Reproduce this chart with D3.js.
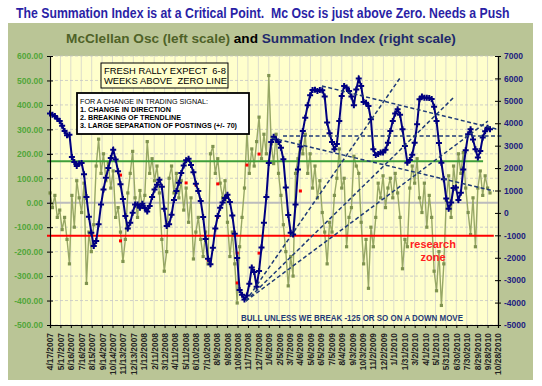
<!DOCTYPE html>
<html>
<head>
<meta charset="utf-8">
<script src="https://cdn.jsdelivr.net/npm/d3@7"></script>
<style>
body { margin: 0; background: #fff; }
svg { display: block; font-family: "Liberation Sans", Arial, sans-serif; }
</style>
</head>
<body>
<script>
// x axis labels, one every 30 days
var tickLabels = ["4/17/2007","5/17/2007","6/16/2007","7/16/2007","8/15/2007","9/14/2007","10/14/2007","11/13/2007","12/13/2007",
  "1/12/2008","2/11/2008","3/12/2008","4/11/2008","5/11/2008","6/10/2008","7/10/2008","8/9/2008","9/8/2008","10/8/2008","11/7/2008","12/7/2008",
  "1/6/2009","2/5/2009","3/7/2009","4/6/2009","5/6/2009","6/5/2009","7/5/2009","8/4/2009","9/3/2009","10/3/2009","11/2/2009","12/2/2009",
  "1/1/2010","1/31/2010","3/2/2010","4/1/2010","5/1/2010","5/31/2010","6/30/2010","7/30/2010","8/29/2010","9/28/2010","10/28/2010"];

// weekly readings starting 4/17/2007
var firstDay = "4/17/2007";
var sumIndex = [4440,4380,4320,4200,4100,3890,3650,3460,3490,2490,
  2270,2090,2200,2230,1720,710,-170,-880,-1480,-1250,
  -510,370,1050,1570,2000,2450,2820,2380,1860,1280,
  620,-140,-700,-440,10,380,380,230,410,220,
  60,310,710,1040,1260,1480,1170,190,-580,-510,
  -80,580,980,1350,1780,2110,2350,2420,2140,1810,
  1300,980,530,-180,-1160,-2040,-2290,-1550,-690,-140,
  230,460,670,810,490,-110,-930,-2010,-3440,-3650,
  -3860,-3680,-3160,-2440,-2640,-3290,-2590,-1540,-440,710,
  2230,3160,3400,3280,3160,2910,2390,1130,-90,-880,
  -960,380,1940,2960,3650,4250,4800,5250,5480,5500,
  5440,5480,5470,5190,4030,3550,3160,2840,3070,4100,
  5220,5660,5600,5440,5190,4800,5510,6000,5660,4950,
  4920,4770,4180,2840,2580,2630,2690,2690,2820,3130,
  3650,4100,4440,4620,4380,3730,2990,2240,2360,2600,
  3130,3950,5070,5190,5140,5140,5130,5080,4740,4100,
  3120,2240,1500,640,190,460,1110,1130,580,900,
  1940,2790,3510,3730,3280,2840,2470,2760,3360,3640,
  3800,3730];
var mcOsc = [40,-20,30,-60,-30,-110,-60,-150,-250,30,
  -100,90,20,-40,80,-330,-120,-200,-90,150,
  260,120,200,90,160,60,130,-60,-20,-120,
  -240,-150,40,120,210,20,-60,50,-20,30,
  250,120,180,90,150,40,-150,-280,-200,100,
  150,40,120,20,90,-30,60,-80,20,-230,
  -120,-60,-150,-220,-120,-250,200,230,120,180,
  80,20,90,-80,-220,-120,-250,-410,-180,-60,
  60,290,120,220,150,250,350,180,280,200,
  520,240,160,280,120,30,-90,-200,-340,-220,
  -300,120,180,250,200,280,120,200,60,150,
  20,90,-40,-120,-250,-80,-120,30,100,220,
  60,100,-180,-60,-20,190,150,120,-80,-250,
  -150,-350,-100,-180,-60,80,20,110,-20,60,
  100,20,120,40,-60,-270,-150,-180,60,150,
  80,180,20,-40,80,-100,30,-60,-280,-360,
  -200,-420,-250,10,110,-60,150,60,200,120,
  205,60,-40,-130,20,-180,60,130,30,110,
  60,40];

// red postings on the oscillator (week number, value)
var signalWeek = [29,56,29,60,69,69,65,77,77,86,81,86,103];
var signalValue = [113,81,-156,73,77,-58,-234,-206,-328,-206,154,199,48];

// level lines on the left scale
var greenLevel = 170, redLevel = -135;
// trend lines on the right scale: from date, value, to date, value
var trendLines = [
  ["2/16/2009", 3430, "11/11/2010", 3430],
  ["6/8/2009", 5660, "10/25/2010", 3740],
  ["1/15/2009", 3340, "10/16/2010", 980],
  ["11/1/2008", -3930, "1/19/2010", 6020],
  ["11/1/2008", -3930, "6/21/2010", 5130],
  ["11/1/2008", -3930, "9/29/2010", 4100]
];

var leftTicks = d3.range(-500, 601, 100);
var rightTicks = d3.range(-5000, 7001, 1000);

var parse = d3.timeParse("%m/%d/%Y");
var tickDates = tickLabels.map(parse);
var start = parse(firstDay);
var week = function(i) { return d3.timeDay.offset(start, 7 * i); };

var svg = d3.select("body").append("svg")
  .attr("width", 542)
  .attr("height", 386);

svg.append("rect")
  .attr("x", 8).attr("y", 23).attr("width", 525).attr("height", 357)
  .attr("fill", "#bac596");

// page title, squeezed to the width it has in the original
var head = svg.append("g");
var headText = head.append("text")
  .attr("x", 0).attr("y", 0)
  .attr("font-family", "'Liberation Sans Narrow', 'Liberation Sans', sans-serif")
  .attr("font-size", "14px").attr("font-weight", "bold")
  .attr("fill", "#2a1fa6")
  .style("white-space", "pre")
  .text("The Summation Index is at a Critical Point.  Mc Osc is just above Zero. Needs a Push");
var headLen = headText.node().getComputedTextLength();
head.attr("transform", "translate(16,18) scale(" + Math.min(1, 494 / headLen) + ",1)");

var title = svg.append("text")
  .attr("x", 261).attr("y", 43)
  .attr("text-anchor", "middle")
  .attr("font-size", "13.6px").attr("font-weight", "bold");
title.append("tspan").attr("fill", "#4f6228").text("McClellan Osc (left scale) ");
title.append("tspan").attr("fill", "#000").text("and ");
title.append("tspan").attr("fill", "#1f2a6b").text("Summation Index (right scale)");

var x = d3.scaleTime().domain([tickDates[0], tickDates[tickDates.length - 1]]).range([50, 498]);
var yL = d3.scaleLinear().domain([-500, 600]).range([325, 56]);
var yR = d3.scaleLinear().domain([-5000, 7000]).range([325, 56]);

svg.append("rect")
  .attr("x", 50).attr("y", 56).attr("width", 448).attr("height", 269)
  .attr("fill", "#ffffcc");

// grid
svg.append("g").selectAll("line")
  .data(tickDates)
  .enter().append("line")
  .attr("x1", function(d) { return x(d); })
  .attr("x2", function(d) { return x(d); })
  .attr("y1", 56).attr("y2", 325)
  .attr("stroke", "#dcdccb").attr("stroke-width", 1);

svg.append("g").selectAll("line")
  .data(leftTicks)
  .enter().append("line")
  .attr("x1", 50).attr("x2", 498)
  .attr("y1", function(d) { return yL(d); })
  .attr("y2", function(d) { return yL(d); })
  .attr("stroke", "#c4c4c4").attr("stroke-width", 0.8)
  .attr("stroke-dasharray", "3,2");

// zero line
svg.append("line")
  .attr("x1", 47).attr("x2", x(parse("10/28/2010")))
  .attr("y1", yL(0)).attr("y2", yL(0))
  .attr("stroke", "#bdbdbd").attr("stroke-width", 2);

// oscillator
var osc = mcOsc.map(function(v, i) { return {d: week(i), v: v}; });
svg.append("path")
  .datum(osc)
  .attr("fill", "none")
  .attr("stroke", "#98a866")
  .attr("stroke-width", 1.4)
  .attr("d", d3.line().x(function(d) { return x(d.d); }).y(function(d) { return yL(d.v); }));

svg.append("g").selectAll("rect")
  .data(osc)
  .enter().append("rect")
  .attr("x", function(d) { return x(d.d) - 1.6; })
  .attr("y", function(d) { return yL(d.v) - 1.6; })
  .attr("width", 3.2).attr("height", 3.2)
  .attr("fill", "#7f9350");

svg.append("g").selectAll("rect")
  .data(signalWeek)
  .enter().append("rect")
  .attr("x", function(d) { return x(week(d)) - 1.5; })
  .attr("y", function(d, i) { return yL(signalValue[i]) - 1.5; })
  .attr("width", 3).attr("height", 3)
  .attr("fill", "#ff0000");

svg.append("line")
  .attr("x1", 47).attr("x2", x(parse("9/15/2010")))
  .attr("y1", yL(greenLevel)).attr("y2", yL(greenLevel))
  .attr("stroke", "#3f9f3a").attr("stroke-width", 2);

svg.append("line")
  .attr("x1", 47).attr("x2", x(parse("10/16/2010")))
  .attr("y1", yL(redLevel)).attr("y2", yL(redLevel))
  .attr("stroke", "#ff0000").attr("stroke-width", 2);

// summation index
var sum = sumIndex.map(function(v, i) { return {d: week(i), v: v}; });
svg.append("path")
  .datum(sum)
  .attr("fill", "none")
  .attr("stroke", "#000080")
  .attr("stroke-width", 2)
  .attr("d", d3.line().x(function(d) { return x(d.d); }).y(function(d) { return yR(d.v); }));

svg.append("g").selectAll("path")
  .data(sum)
  .enter().append("path")
  .attr("transform", function(d) { return "translate(" + x(d.d) + "," + yR(d.v) + ")"; })
  .attr("d", d3.symbol().type(d3.symbolCross).size(20))
  .attr("fill", "#000080");

// trend lines
svg.append("g").selectAll("line")
  .data(trendLines)
  .enter().append("line")
  .attr("x1", function(d) { return x(parse(d[0])); })
  .attr("y1", function(d) { return yR(d[1]); })
  .attr("x2", function(d) { return x(parse(d[2])); })
  .attr("y2", function(d) { return yR(d[3]); })
  .attr("stroke", "#1f3a78").attr("stroke-width", 1.5)
  .attr("stroke-dasharray", "4,2.5");

// note boxes
svg.append("rect")
  .attr("x", 101).attr("y", 63).attr("width", 127).attr("height", 25)
  .attr("fill", "#ffffcc").attr("stroke", "#000").attr("stroke-width", 1);
svg.append("text")
  .attr("x", 104).attr("y", 73.5)
  .attr("font-size", "9.4px")
  .style("white-space", "pre")
  .text("FRESH RALLY EXPECT  6-8");
svg.append("text")
  .attr("x", 104).attr("y", 84)
  .attr("font-size", "9.4px")
  .style("white-space", "pre")
  .text("WEEKS ABOVE  ZERO LINE");

svg.append("rect")
  .attr("x", 77).attr("y", 93).attr("width", 172).attr("height", 41)
  .attr("fill", "#fff").attr("stroke", "#000").attr("stroke-width", 1.8);
var notes = ["FOR A CHANGE IN TRADING SIGNAL:", "1. CHANGE IN DIRECTION", "2. BREAKING OF TRENDLINE", "3. LARGE SEPARATION OF POSTINGS (+/- 70)"];
var noteWidth = [128, 91, 101, 157];
svg.append("g").selectAll("text")
  .data(notes)
  .enter().append("text")
  .attr("x", 80)
  .attr("y", function(d, i) { return 103.5 + i * 8.3; })
  .attr("font-size", "7.9px")
  .attr("font-weight", function(d, i) { return i == 0 ? "normal" : "bold"; })
  .attr("fill", "#000")
  .attr("textLength", function(d, i) { return noteWidth[i]; })
  .attr("lengthAdjust", "spacingAndGlyphs")
  .text(function(d) { return d; });

svg.append("text")
  .attr("x", 241).attr("y", 321)
  .attr("font-size", "8.6px").attr("font-weight", "bold")
  .attr("fill", "#1f3a78")
  .attr("textLength", 222).attr("lengthAdjust", "spacingAndGlyphs")
  .text("BULL UNLESS WE BREAK -125 OR SO ON A DOWN MOVE");

svg.append("text")
  .attr("x", 433).attr("y", 248)
  .attr("text-anchor", "middle")
  .attr("font-size", "11px").attr("font-weight", "bold").attr("fill", "#ff2020")
  .text("research");
svg.append("text")
  .attr("x", 433).attr("y", 261)
  .attr("text-anchor", "middle")
  .attr("font-size", "11px").attr("font-weight", "bold").attr("fill", "#ff2020")
  .text("zone");

// axes
var axL = svg.append("g")
  .attr("transform", "translate(50,0)")
  .call(d3.axisLeft(yL).tickValues(leftTicks).tickSize(3).tickPadding(4)
    .tickFormat(function(d) { return d.toFixed(2); }));
axL.selectAll(".tick line").attr("x1", 3);
axL.selectAll("text").attr("fill", "#52a63a").attr("font-size", "8.5px").attr("font-weight", "bold");

var axR = svg.append("g")
  .attr("transform", "translate(498,0)")
  .call(d3.axisRight(yR).tickValues(rightTicks).tickSize(3).tickPadding(3)
    .tickFormat(function(d) { return String(d); }));
axR.selectAll(".tick line").attr("x1", -3);
axR.selectAll("text").attr("fill", "#202080").attr("font-size", "8.5px").attr("font-weight", "bold");

var axB = svg.append("g")
  .attr("transform", "translate(0,325)")
  .call(d3.axisBottom(x).tickValues(tickDates).tickSize(3)
    .tickFormat(function(d, i) { return tickLabels[i]; }));
axB.selectAll("text")
  .attr("transform", "rotate(-90)")
  .attr("x", -8).attr("y", 0).attr("dy", "0.35em")
  .attr("text-anchor", "end")
  .attr("fill", "#222").attr("font-size", "8.4px").attr("font-weight", "bold");

svg.selectAll(".domain").attr("stroke", "#000").attr("stroke-width", 1.2);
svg.selectAll(".tick line").attr("stroke", "#000");
</script>
</body>
</html>
